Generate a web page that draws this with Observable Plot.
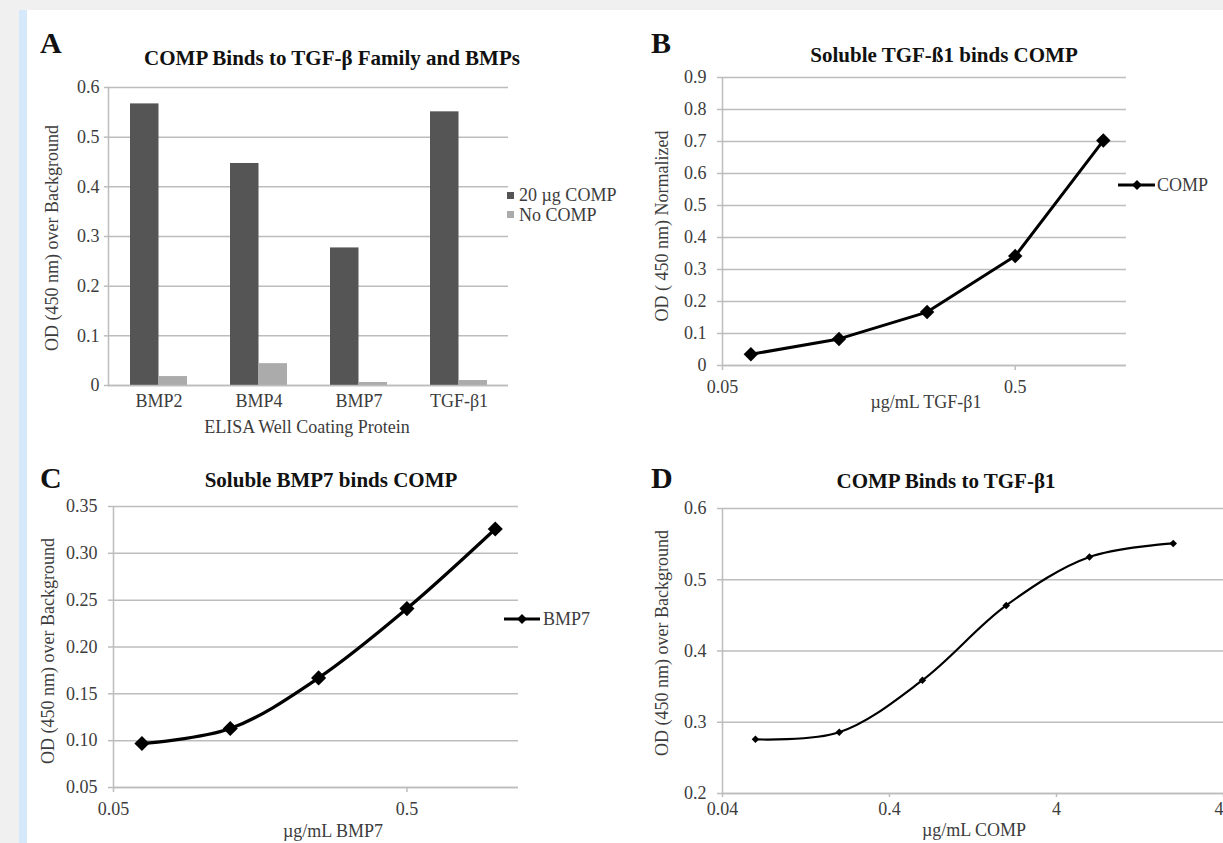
<!DOCTYPE html>
<html><head><meta charset="utf-8">
<script src="https://cdn.jsdelivr.net/npm/d3@7"></script>
<script src="https://cdn.jsdelivr.net/npm/@observablehq/plot@0.6"></script>
<style>
html,body{margin:0;padding:0;background:#f0f0f0;overflow:hidden;width:1223px;height:843px;}
#page{position:relative;width:1223px;height:843px;overflow:hidden;background:#f0f0f0;}
#strip{position:absolute;left:19px;top:10px;width:8px;height:833px;background:#d6e9fb;}
#white{position:absolute;left:27px;top:10px;width:1196px;height:833px;background:#fff;}
.panel{position:absolute;}
.panel svg{max-width:none !important;}
#overlay{position:absolute;left:0;top:0;}
</style></head>
<body><div id="page"><div id="strip"></div><div id="white"></div></div>
<script>
// ---------- DATA ----------
// Panel A
const coatingProteins = ["BMP2", "BMP4", "BMP7", "TGF-β1"];
const seriesA = ["20 µg COMP", "No COMP"];
const with20ugComp = [0.567, 0.447, 0.277, 0.551];
const noComp = [0.018, 0.044, 0.006, 0.010];
const yTicksA = [0, 0.1, 0.2, 0.3, 0.4, 0.5, 0.6];
// Panel B
const tgfConc = [0.0625, 0.125, 0.25, 0.5, 1];
const tgfOD = [0.035, 0.083, 0.167, 0.342, 0.703];
const xTicksB = [0.05, 0.5];
const yTicksB = [0, 0.1, 0.2, 0.3, 0.4, 0.5, 0.6, 0.7, 0.8, 0.9];
// Panel C
const bmp7Conc = [0.0625, 0.125, 0.25, 0.5, 1];
const bmp7OD = [0.097, 0.113, 0.167, 0.241, 0.326];
const xTicksC = [0.05, 0.5];
const yTicksC = [0.05, 0.10, 0.15, 0.20, 0.25, 0.30, 0.35];
// Panel D
const compConc = [0.063, 0.2, 0.63, 2, 6.3, 20];
const compOD = [0.276, 0.286, 0.359, 0.464, 0.532, 0.551];
const xTicksD = [0.04, 0.4, 4, 40];
const yTicksD = [0.2, 0.3, 0.4, 0.5, 0.6];

// ---------- STYLE ----------
const SERIF = "'Liberation Serif', 'Times New Roman', serif";
const GRID = "#bdbdbd";
const TICK = "#3c3c3c";
const DARK = "#555555";
const LIGHT = "#ababab";
const baseStyle = {fontFamily: SERIF, fontSize: "18px", color: TICK, background: "transparent", overflow: "visible"};
const fmt1 = d => d === 0 ? "0" : d.toFixed(1);
const fmt2 = d => d.toFixed(2);

function margins(box, f) {
  return {width: box.width, height: box.height,
    marginLeft: f.x0 - box.left, marginRight: box.left + box.width - f.x1,
    marginTop: f.y0 - box.top, marginBottom: box.top + box.height - f.y1};
}
const page = document.getElementById("page");
function place(svg, box) {
  const d = document.createElement("div");
  d.className = "panel";
  d.style.left = box.left + "px"; d.style.top = box.top + "px";
  d.appendChild(svg); page.appendChild(d);
}
// log-axis helper: tick marks via axis, labels via text mark
function logXAxis(ticks, tickSize, labelGap) {
  return [
    Plot.axisX(ticks, {tickSize, stroke: GRID, strokeWidth: 1.5, tickFormat: () => ""}),
    Plot.text(ticks, {x: d => d, text: d => String(d), frameAnchor: "bottom", lineAnchor: "top", dy: labelGap, fill: TICK})
  ];
}

// ---------- PANEL A ----------
{
  const box = {left: 20, top: 60, width: 500, height: 360};
  const f = {x0: 108, x1: 508, y0: 87, y1: 385};
  const pi = 0.43, po = 0.215;
  const band = (f.x1 - f.x0) / (coatingProteins.length - pi + 2 * po) * (1 - pi);
  const rows = coatingProteins.map((p, i) => ({protein: p, a: with20ugComp[i], b: noComp[i]}));
  const svg = Plot.plot({
    ...margins(box, f), style: baseStyle,
    x: {domain: coatingProteins, paddingInner: pi, paddingOuter: po, label: null},
    y: {domain: [0, 0.6], label: null},
    marks: [
      Plot.gridY(yTicksA, {stroke: GRID, strokeOpacity: 1, strokeWidth: 1.5}),
      Plot.axisY(yTicksA, {tickSize: 4, tickPadding: 5, stroke: GRID, strokeWidth: 1.5, fill: TICK, tickFormat: fmt1, label: null}),
      Plot.frame({anchor: "left", stroke: GRID, strokeWidth: 1.5}),
      Plot.barY(rows, {x: "protein", y: "a", fill: DARK, insetRight: band / 2}),
      Plot.barY(rows, {x: "protein", y: "b", fill: LIGHT, insetLeft: band / 2}),
      Plot.ruleY([0], {stroke: GRID, strokeWidth: 1.5}),
      Plot.axisX({tickSize: 0, tickPadding: 9, fill: TICK, label: null})
    ]
  });
  place(svg, box);
}

// ---------- PANEL B ----------
{
  const box = {left: 620, top: 50, width: 600, height: 380};
  const f = {x0: 722, x1: 1126, y0: 77, y1: 365};
  const rows = tgfConc.map((c, i) => ({conc: c, od: tgfOD[i]}));
  const svg = Plot.plot({
    ...margins(box, f), style: baseStyle,
    x: {type: "log", domain: [0.05, 1.2], label: null},
    y: {domain: [0, 0.9], label: null},
    marks: [
      Plot.gridY(yTicksB, {stroke: GRID, strokeOpacity: 1, strokeWidth: 1.5}),
      Plot.axisY(yTicksB, {tickSize: 5, tickPadding: 11, stroke: GRID, strokeWidth: 1.5, fill: TICK, tickFormat: fmt1, label: null}),
      Plot.ruleX([0.05], {stroke: GRID, strokeWidth: 1.5}),
      Plot.ruleY([0], {stroke: GRID, strokeWidth: 1.5}),
      ...logXAxis(xTicksB, 5, 15),
      Plot.line(rows, {x: "conc", y: "od", stroke: "#000", strokeWidth: 3}),
      Plot.dot(rows, {x: "conc", y: "od", symbol: "diamond2", r: 6.5, fill: "#000", stroke: "none"})
    ]
  });
  place(svg, box);
}

// ---------- PANEL C ----------
{
  const box = {left: 10, top: 470, width: 600, height: 373};
  const f = {x0: 113, x1: 518, y0: 506, y1: 787};
  const rows = bmp7Conc.map((c, i) => ({conc: c, od: bmp7OD[i]}));
  const svg = Plot.plot({
    ...margins(box, f), style: baseStyle,
    x: {type: "log", domain: [0.05, 1.2], label: null},
    y: {domain: [0.05, 0.35], label: null},
    marks: [
      Plot.gridY(yTicksC, {stroke: GRID, strokeOpacity: 1, strokeWidth: 1.5}),
      Plot.axisY(yTicksC, {tickSize: 5, tickPadding: 11, stroke: GRID, strokeWidth: 1.5, fill: TICK, tickFormat: fmt2, label: null}),
      Plot.ruleX([0.05], {stroke: GRID, strokeWidth: 1.5}),
      Plot.ruleY([0.05], {stroke: GRID, strokeWidth: 1.5}),
      ...logXAxis(xTicksC, 5, 15),
      Plot.line(rows, {x: "conc", y: "od", stroke: "#000", strokeWidth: 3.2, curve: "catmull-rom"}),
      Plot.dot(rows, {x: "conc", y: "od", symbol: "diamond2", r: 6.8, fill: "#000", stroke: "none"})
    ]
  });
  place(svg, box);
}

// ---------- PANEL D ----------
{
  const box = {left: 620, top: 470, width: 640, height: 373};
  const f = {x0: 722, x1: 1223, y0: 508, y1: 793};
  const rows = compConc.map((c, i) => ({conc: c, od: compOD[i]}));
  const svg = Plot.plot({
    ...margins(box, f), style: baseStyle,
    x: {type: "log", domain: [0.04, 40], label: null},
    y: {domain: [0.2, 0.6], label: null},
    marks: [
      Plot.gridY(yTicksD, {stroke: GRID, strokeOpacity: 1, strokeWidth: 1.5}),
      Plot.axisY(yTicksD, {tickSize: 5, tickPadding: 11, stroke: GRID, strokeWidth: 1.5, fill: TICK, tickFormat: fmt1, label: null}),
      Plot.ruleX([0.04], {stroke: GRID, strokeWidth: 1.5}),
      Plot.ruleY([0.2], {stroke: GRID, strokeWidth: 1.5}),
      ...logXAxis(xTicksD, 4, 9),
      Plot.line(rows, {x: "conc", y: "od", stroke: "#000", strokeWidth: 2.2, curve: "catmull-rom"}),
      Plot.dot(rows, {x: "conc", y: "od", symbol: "diamond2", r: 3.4, fill: "#000", stroke: "none"})
    ]
  });
  place(svg, box);
}

// ---------- ANNOTATIONS (titles, axis titles, legends) ----------
{
  const ns = "http://www.w3.org/2000/svg";
  const ov = document.createElementNS(ns, "svg");
  ov.setAttribute("id", "overlay");
  ov.setAttribute("width", 1223); ov.setAttribute("height", 843);
  ov.style.fontFamily = SERIF;
  page.appendChild(ov);
  function text(str, x, y, o = {}) {
    const t = document.createElementNS(ns, "text");
    t.textContent = str;
    t.setAttribute("x", 0); t.setAttribute("y", 0);
    t.setAttribute("transform", `translate(${x},${y})` + (o.rotate ? ` rotate(${o.rotate})` : ""));
    t.setAttribute("font-size", o.size || 18);
    t.setAttribute("font-weight", o.bold ? "bold" : "normal");
    t.setAttribute("fill", o.fill || TICK);
    t.setAttribute("text-anchor", o.anchor || "middle");
    ov.appendChild(t);
  }
  function el(tag, attrs) {
    const e = document.createElementNS(ns, tag);
    for (const k in attrs) e.setAttribute(k, attrs[k]);
    ov.appendChild(e);
  }
  const T = "#111";
  // panel letters
  text("A", 40, 53, {size: 30, bold: true, fill: T, anchor: "start"});
  text("B", 651, 53, {size: 30, bold: true, fill: T, anchor: "start"});
  text("C", 40, 488, {size: 30, bold: true, fill: T, anchor: "start"});
  text("D", 651, 488, {size: 30, bold: true, fill: T, anchor: "start"});
  // titles
  text("COMP Binds to TGF-β Family and BMPs", 332, 65, {size: 21, bold: true, fill: T});
  text("Soluble TGF-ß1 binds COMP", 944, 62, {size: 21, bold: true, fill: T});
  text("Soluble BMP7 binds COMP", 331, 487, {size: 21, bold: true, fill: T});
  text("COMP Binds to TGF-β1", 946, 488, {size: 21, bold: true, fill: T});
  // axis titles
  text("OD (450 nm) over Background", 58, 238, {rotate: -90});
  text("ELISA Well Coating Protein", 307, 433);
  text("OD ( 450 nm) Normalized", 668, 226, {rotate: -90});
  text("µg/mL TGF-β1", 926, 408);
  text("OD (450 nm) over Background", 54, 651, {rotate: -90});
  text("µg/mL BMP7", 333, 837);
  text("OD (450 nm) over Background", 668, 643, {rotate: -90});
  text("µg/mL COMP", 974, 836);
  // legend A
  el("rect", {x: 507, y: 192, width: 7, height: 7, fill: DARK});
  text(seriesA[0], 519, 201, {anchor: "start"});
  el("rect", {x: 507, y: 211, width: 7, height: 7, fill: LIGHT});
  text(seriesA[1], 519, 221, {anchor: "start"});
  // legend B
  el("line", {x1: 1118, x2: 1155, y1: 185, y2: 185, stroke: "#000", "stroke-width": 3});
  el("path", {d: "M1137,180 L1142,185 L1137,190 L1132,185 Z", fill: "#000"});
  text("COMP", 1157, 191, {anchor: "start"});
  // legend C
  el("line", {x1: 504, x2: 540, y1: 619, y2: 619, stroke: "#000", "stroke-width": 3});
  el("path", {d: "M522,614 L527,619 L522,624 L517,619 Z", fill: "#000"});
  text("BMP7", 543, 625, {anchor: "start"});
}
</script>
</body></html>
